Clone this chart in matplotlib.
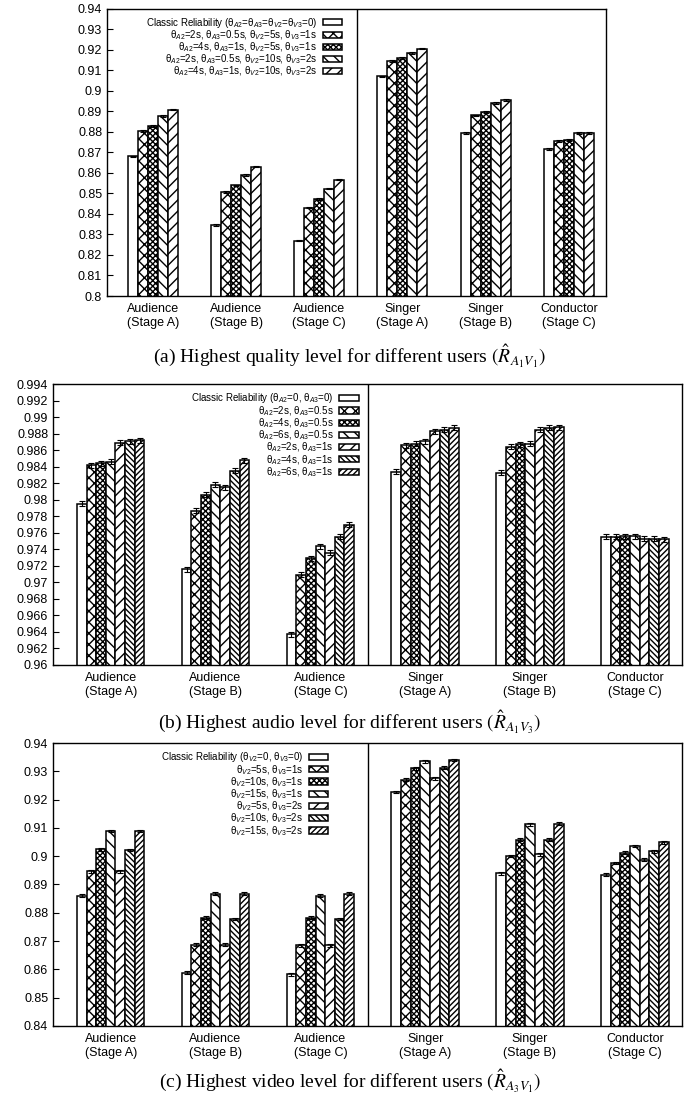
import matplotlib.pyplot as plt
import numpy as np

plt.rcParams['font.family'] = ['Liberation Sans', 'DejaVu Sans']
plt.rcParams['mathtext.fontset'] = 'custom'
plt.rcParams['mathtext.rm'] = 'Liberation Sans'
plt.rcParams['mathtext.it'] = 'Liberation Sans:italic'
plt.rcParams['hatch.linewidth'] = 1.0

users = ['Audience\n(Stage A)', 'Audience\n(Stage B)', 'Audience\n(Stage C)',
         'Singer\n(Stage A)', 'Singer\n(Stage B)', 'Conductor\n(Stage C)']

# (a) highest quality level
labels_a = [r'Classic Reliability (θ$_{A2}$=θ$_{A3}$=θ$_{V2}$=θ$_{V3}$=0)',
            r'θ$_{A2}$=2s, θ$_{A3}$=0.5s, θ$_{V2}$=5s, θ$_{V3}$=1s',
            r'θ$_{A2}$=4s, θ$_{A3}$=1s, θ$_{V2}$=5s, θ$_{V3}$=1s',
            r'θ$_{A2}$=2s, θ$_{A3}$=0.5s, θ$_{V2}$=10s, θ$_{V3}$=2s',
            r'θ$_{A2}$=4s, θ$_{A3}$=1s, θ$_{V2}$=10s, θ$_{V3}$=2s']
vals_a = [[0.868, 0.8345, 0.827, 0.907, 0.8795, 0.8715],
          [0.8803, 0.8506, 0.8431, 0.9145, 0.888, 0.8755],
          [0.8827, 0.8539, 0.8472, 0.916, 0.8895, 0.876],
          [0.8878, 0.8589, 0.8523, 0.9185, 0.894, 0.8795],
          [0.8908, 0.863, 0.8567, 0.9205, 0.8955, 0.8795]]
err_a = 0.0004

# (b) highest audio level
labels_b = [r'Classic Reliability (θ$_{A2}$=0, θ$_{A3}$=0)',
            r'θ$_{A2}$=2s, θ$_{A3}$=0.5s',
            r'θ$_{A2}$=4s, θ$_{A3}$=0.5s',
            r'θ$_{A2}$=6s, θ$_{A3}$=0.5s',
            r'θ$_{A2}$=2s, θ$_{A3}$=1s',
            r'θ$_{A2}$=4s, θ$_{A3}$=1s',
            r'θ$_{A2}$=6s, θ$_{A3}$=1s']
vals_b = [[0.9795, 0.9716, 0.9637, 0.9834, 0.9833, 0.9755],
          [0.9842, 0.9787, 0.9709, 0.9866, 0.9864, 0.9755],
          [0.9844, 0.9806, 0.9729, 0.9868, 0.9867, 0.9756],
          [0.9846, 0.9818, 0.9744, 0.9871, 0.9868, 0.9756],
          [0.9869, 0.9815, 0.9736, 0.9883, 0.9885, 0.9753],
          [0.9871, 0.9835, 0.9755, 0.9885, 0.9887, 0.9753],
          [0.9872, 0.9848, 0.977, 0.9887, 0.9888, 0.9752]]
err_b = 0.0003

# (c) highest video level
labels_c = [r'Classic Reliability (θ$_{V2}$=0, θ$_{V3}$=0)',
            r'θ$_{V2}$=5s, θ$_{V3}$=1s',
            r'θ$_{V2}$=10s, θ$_{V3}$=1s',
            r'θ$_{V2}$=15s, θ$_{V3}$=1s',
            r'θ$_{V2}$=5s, θ$_{V3}$=2s',
            r'θ$_{V2}$=10s, θ$_{V3}$=2s',
            r'θ$_{V2}$=15s, θ$_{V3}$=2s']
vals_c = [[0.886, 0.8588, 0.8582, 0.9227, 0.894, 0.8934],
          [0.8947, 0.8687, 0.8685, 0.9271, 0.9001, 0.8976],
          [0.9024, 0.8782, 0.8782, 0.9311, 0.9059, 0.9013],
          [0.9089, 0.8867, 0.8861, 0.9335, 0.9113, 0.9036],
          [0.8947, 0.8687, 0.8685, 0.9276, 0.9007, 0.8987],
          [0.9022, 0.8778, 0.8778, 0.9313, 0.9059, 0.9018],
          [0.9089, 0.8867, 0.8868, 0.934, 0.9115, 0.9049]]
err_c = 0.0005

hatches5 = ['', 'xxx', 'xxxxxx', '\\\\\\', '///']
hatches7 = ['', 'xxx', 'xxxxxx', '\\\\\\', '///', '\\\\\\\\\\\\', '//////']


def draw_panel(ax, vals, labels, err, hatches, width, yticks, leg_x, leg_sp, caption, cap_y):
    x = np.arange(1, len(users) + 1)
    n = len(vals)
    for i in range(n):
        pos = x + (i - (n - 1) / 2) * width
        ax.bar(pos, vals[i], width, color='white', edgecolor='black', linewidth=1.1,
               hatch=hatches[i], label=labels[i], zorder=2)
        ax.errorbar(pos, vals[i], yerr=err, fmt='none', ecolor='black',
                    elinewidth=0.8, capsize=2, capthick=0.8, zorder=3)
    ax.axvline(3.45, color='black', linewidth=1)
    ax.set_xlim(0.45, 6.45)
    ax.set_ylim(yticks[0], yticks[-1])
    ax.set_yticks(yticks)
    ax.set_yticklabels(['%g' % t for t in yticks])
    ax.set_xticks(x)
    ax.set_xticklabels(users)
    ax.tick_params(axis='x', length=0, labelsize=9, pad=5)
    ax.tick_params(axis='y', direction='in', length=4, labelsize=9)
    for s in ax.spines.values():
        s.set_linewidth(1)
    ax.legend(loc='upper right', bbox_to_anchor=(leg_x, 0.995), frameon=False,
              markerfirst=False, fontsize=7, handlelength=2.0, handleheight=0.6,
              labelspacing=leg_sp, handletextpad=0.6, borderaxespad=0.2)
    fig.text(0.5, cap_y, caption, ha='center', va='center', fontsize=14,
             family='Liberation Serif', math_fontfamily='stix')


fig = plt.figure(figsize=(7, 10.98), dpi=100)
ax_a = fig.add_axes([0.153, 0.7304, 0.713, 0.2618])
ax_b = fig.add_axes([0.0757, 0.3944, 0.8986, 0.2557])
ax_c = fig.add_axes([0.0757, 0.0656, 0.8986, 0.2577])

yt_a = [round(v, 2) for v in np.arange(0.80, 0.9401, 0.01)]
yt_b = [round(v, 3) for v in np.arange(0.960, 0.99401, 0.002)]
yt_c = [round(v, 2) for v in np.arange(0.84, 0.9401, 0.01)]

draw_panel(ax_a, vals_a, labels_a, err_a, hatches5, 0.12, yt_a, 0.483, -0.16,
           r'(a) Highest quality level for different users $(\hat{R}_{A_1V_1})$', 1 - 356 / 1098)
draw_panel(ax_b, vals_b, labels_b, err_b, hatches7, 0.092, yt_b, 0.495, -0.14,
           r'(b) Highest audio level for different users $(\hat{R}_{A_1V_3})$', 1 - 722 / 1098)
draw_panel(ax_c, vals_c, labels_c, err_c, hatches7, 0.092, yt_c, 0.447, -0.14,
           r'(c) Highest video level for different users $(\hat{R}_{A_3V_1})$', 1 - 1081 / 1098)

fig.savefig('out.png', dpi=100)
